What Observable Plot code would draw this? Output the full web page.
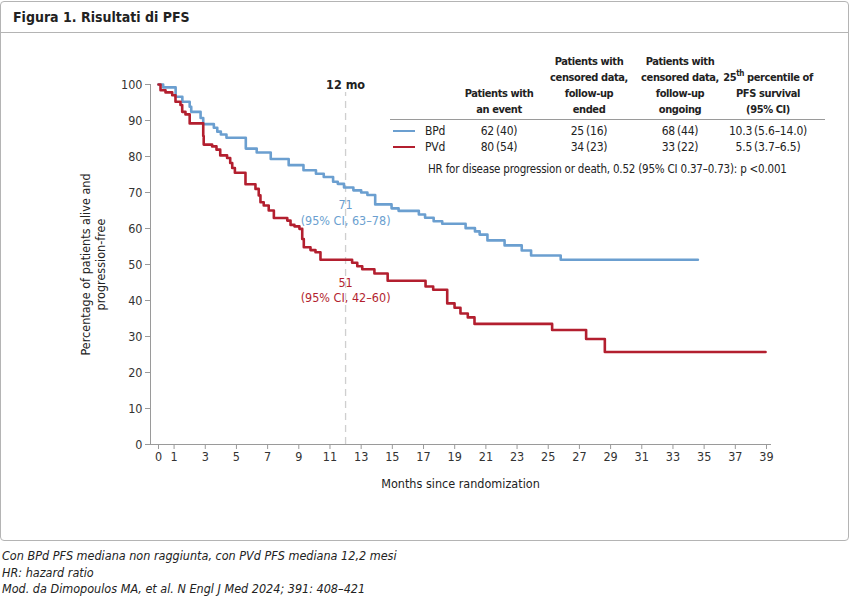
<!DOCTYPE html>
<html>
<head>
<meta charset="utf-8">
<script src="https://cdn.jsdelivr.net/npm/d3@7"></script>
<script src="https://cdn.jsdelivr.net/npm/@observablehq/plot@0.6"></script>
<style>
  body { margin:0; background:#fff; font-family:"Liberation Sans Narrow","DejaVu Sans Condensed",Roboto,sans-serif; color:#222; }
  #page { position:relative; width:850px; height:597px; overflow:hidden; }
  #box { position:absolute; left:0; top:1px; width:847px; height:538px; border:1px solid #b4b4b4; border-radius:4px; }
  #title { position:absolute; left:0; top:0; width:847px; height:31px; border-bottom:1px solid #b4b4b4; font-weight:bold; font-size:14px; line-height:31px; padding-left:12px; box-sizing:border-box; }
  #chart { position:absolute; left:0; top:34px; }
  .abs { position:absolute; white-space:nowrap; }
  .hdr { font-weight:bold; font-size:11px; letter-spacing:-0.4px; line-height:16px; text-align:center; width:120px; display:flex; flex-direction:column; justify-content:flex-end; height:70px; color:#222; }
  .cell { font-size:12px; letter-spacing:-0.2px; line-height:16px; text-align:center; width:120px; color:#222; }
  #notes { position:absolute; left:2px; top:548px; font-style:italic; font-size:12.5px; line-height:16.5px; }
</style>
</head>
<body>
<div id="page">
  <div id="box"><div id="title"></div></div>
  <div id="chart"></div>
  <div id="table"></div>
  <div id="notes"></div>
</div>
<script>
// ---------- DATA ----------
const titleText = "Figura 1. Risultati di PFS";
const seriesNames = ["BPd", "PVd"];
const seriesColors = ["#6b9fd0", "#b31f2f"];

const bpdMonths = [0, 0.3, 1.1, 1.53, 2.0, 2.1, 2.7, 2.87, 3.55, 3.77, 4.0, 4.36, 5.6, 6.3, 7.2, 8.35, 9.3, 10.1, 10.6, 11.2, 11.5, 11.9, 12.5, 13.0, 13.4, 13.9, 14.95, 15.4, 16.7, 17.1, 17.65, 18.2, 19.7, 20.3, 20.6, 21.1, 22.2, 23.3, 23.9, 25.8, 34.6];
const bpdSurv   = [100, 99.2, 96.6, 95.2, 93.8, 92.4, 90.7, 89.0, 88.0, 86.9, 86.1, 85.2, 82.2, 81.1, 79.3, 77.6, 76.2, 75.2, 74.3, 73.0, 72.4, 71.4, 70.6, 70.0, 69.3, 66.7, 65.6, 64.9, 63.9, 63.0, 62.0, 61.3, 60.1, 59.2, 58.3, 56.7, 55.3, 53.9, 52.5, 51.3, 51.3];

const pvdMonths = [0, 0.13, 0.45, 0.88, 1.09, 1.41, 1.52, 1.73, 2.0, 2.87, 2.9, 3.44, 3.72, 3.96, 4.4, 4.6, 4.73, 4.9, 5.58, 6.22, 6.43, 6.54, 6.75, 7.07, 7.4, 8.26, 8.47, 8.72, 9.04, 9.22, 9.32, 9.75, 10.07, 10.39, 12.42, 12.75, 13.07, 13.85, 14.7, 17.13, 17.62, 18.52, 18.99, 19.37, 19.84, 20.27, 25.25, 27.43, 28.63, 38.94];
const pvdSurv   = [100, 98.4, 97.8, 97.0, 95.2, 94.3, 92.4, 91.7, 89.2, 85.7, 83.3, 82.8, 81.9, 80.3, 79.6, 78.2, 76.8, 75.5, 72.3, 71.0, 69.2, 67.3, 66.4, 65.0, 62.9, 62.2, 61.0, 60.6, 59.9, 57.1, 54.8, 54.0, 53.4, 51.3, 50.5, 49.5, 48.7, 47.5, 45.5, 43.9, 43.0, 39.2, 38.0, 36.4, 35.3, 33.5, 31.8, 29.3, 25.7, 25.7];

const xTicks = [0, 1, 3, 5, 7, 9, 11, 13, 15, 17, 19, 21, 23, 25, 27, 29, 31, 33, 35, 37, 39];
const yTicks = [0, 10, 20, 30, 40, 50, 60, 70, 80, 90, 100];
const xLabel = "Months since randomization";
const yLabel = "Percentage of patients alive and\nprogression-free";
const landmarkMonth = 12;
const landmarkLabel = "12 mo";
const landmarkTexts = ["71\n(95% CI, 63–78)", "51\n(95% CI, 42–60)"];

const tableHeaders = [
  ["Patients with", "an event"],
  ["Patients with", "censored data,", "follow-up", "ended"],
  ["Patients with", "censored data,", "follow-up", "ongoing"],
  ["25<sup style='font-size:8px;line-height:0'>th</sup> percentile of", "PFS survival", "(95% CI)"]
];
const tableRows = [
  ["62\u2009(40)", "25\u2009(16)", "68\u2009(44)", "10.3\u2009(5.6–14.0)"],
  ["80\u2009(54)", "34\u2009(23)", "33\u2009(22)", "5.5\u2009(3.7–6.5)"]
];
const hrText = "HR for disease progression or death, 0.52 (95% CI 0.37–0.73): p <0.001";
const notes = [
  "Con BPd PFS mediana non raggiunta, con PVd PFS mediana 12,2 mesi",
  "HR: hazard ratio",
  "Mod. da Dimopoulos MA, et al. N Engl J Med 2024; 391: 408–421"
];

// ---------- BUILD ----------
const curves = [
  ...bpdMonths.map((m, i) => ({ series: seriesNames[0], month: m, surv: bpdSurv[i] })),
  ...pvdMonths.map((m, i) => ({ series: seriesNames[1], month: m, surv: pvdSurv[i] }))
];
const FONT = "'Liberation Sans Narrow','DejaVu Sans Condensed',Roboto,sans-serif";

document.getElementById("title").textContent = titleText;

const plot = Plot.plot({
  width: 850,
  height: 500,
  marginLeft: 150,
  marginRight: 80,
  marginTop: 50,
  marginBottom: 90,
  style: { fontFamily: FONT, fontSize: "12.5px", color: "#333", background: "transparent" },
  x: { domain: [-0.513, 39.257] },
  y: { domain: [0, 100] },
  color: { domain: seriesNames, range: seriesColors },
  marks: [
    Plot.ruleX([landmarkMonth], { y1: 0, y2: 97.8, stroke: "#cfcfcf", strokeWidth: 1.3, strokeDasharray: "7,5" }),
    Plot.axisX({ ticks: xTicks, tickSize: 5, tickPadding: 3, stroke: "#9a9a9a", fill: "#333", label: null, fontSize: 12.5 }),
    Plot.axisY({ ticks: yTicks, tickSize: 5, tickPadding: 3, stroke: "#9a9a9a", fill: "#333", label: null, fontSize: 12.5 }),
    Plot.frame({ anchor: "bottom", stroke: "#9a9a9a" }),
    Plot.frame({ anchor: "left", stroke: "#9a9a9a" }),
    Plot.line(curves, { x: "month", y: "surv", z: "series", stroke: "series", strokeWidth: 2.6, curve: "step-after" }),
    Plot.text([landmarkLabel], { x: landmarkMonth, frameAnchor: "top", lineAnchor: "middle", fill: "#222", fontWeight: "bold", fontSize: 12.5 }),
    Plot.text([landmarkTexts[0]], { x: landmarkMonth, y: 64.6, fill: seriesColors[0], fontSize: 12.5, lineHeight: 1.25 }),
    Plot.text([landmarkTexts[1]], { x: landmarkMonth, y: 43.1, fill: seriesColors[1], fontSize: 12.5, lineHeight: 1.25 }),
    Plot.text([xLabel], { frameAnchor: "bottom", lineAnchor: "middle", dy: 39, fill: "#222", fontSize: 12.5 }),
    Plot.text([yLabel], { frameAnchor: "left", textAnchor: "middle", lineAnchor: "middle", dx: -58, rotate: -90, fill: "#222", fontSize: 12.5, lineHeight: 1.25 })
  ]
});
document.getElementById("chart").appendChild(plot);

// ---------- TABLE OVERLAY ----------
const table = document.getElementById("table");
const colCenters = [499, 589, 680, 768];
tableHeaders.forEach((lines, i) => {
  const d = document.createElement("div");
  d.className = "abs hdr";
  d.style.left = (colCenters[i] - 60) + "px";
  d.style.top = "48px";
  d.innerHTML = lines.map(l => "<div>" + l + "</div>").join("");
  table.appendChild(d);
});
const rule = document.createElement("div");
rule.className = "abs";
Object.assign(rule.style, { left: "390px", top: "119px", width: "435px", height: "1px", background: "#9a9a9a" });
table.appendChild(rule);
tableRows.forEach((row, r) => {
  const top = 123 + r * 16;
  const sw = document.createElement("div");
  sw.className = "abs";
  Object.assign(sw.style, { left: "393px", top: (top + 7) + "px", width: "22px", height: "2px", background: seriesColors[r] });
  table.appendChild(sw);
  const nm = document.createElement("div");
  nm.className = "abs cell";
  Object.assign(nm.style, { left: "425px", top: top + "px", width: "auto", textAlign: "left" });
  nm.textContent = seriesNames[r];
  table.appendChild(nm);
  row.forEach((v, i) => {
    const c = document.createElement("div");
    c.className = "abs cell";
    c.style.left = (colCenters[i] - 60) + "px";
    c.style.top = top + "px";
    c.textContent = v;
    table.appendChild(c);
  });
});
const hr = document.createElement("div");
hr.className = "abs cell";
Object.assign(hr.style, { left: "428px", top: "161px", width: "auto", textAlign: "left", fontSize: "11.5px" });
hr.textContent = hrText;
table.appendChild(hr);

document.getElementById("notes").innerHTML = notes.join("<br>");
</script>
</body>
</html>
